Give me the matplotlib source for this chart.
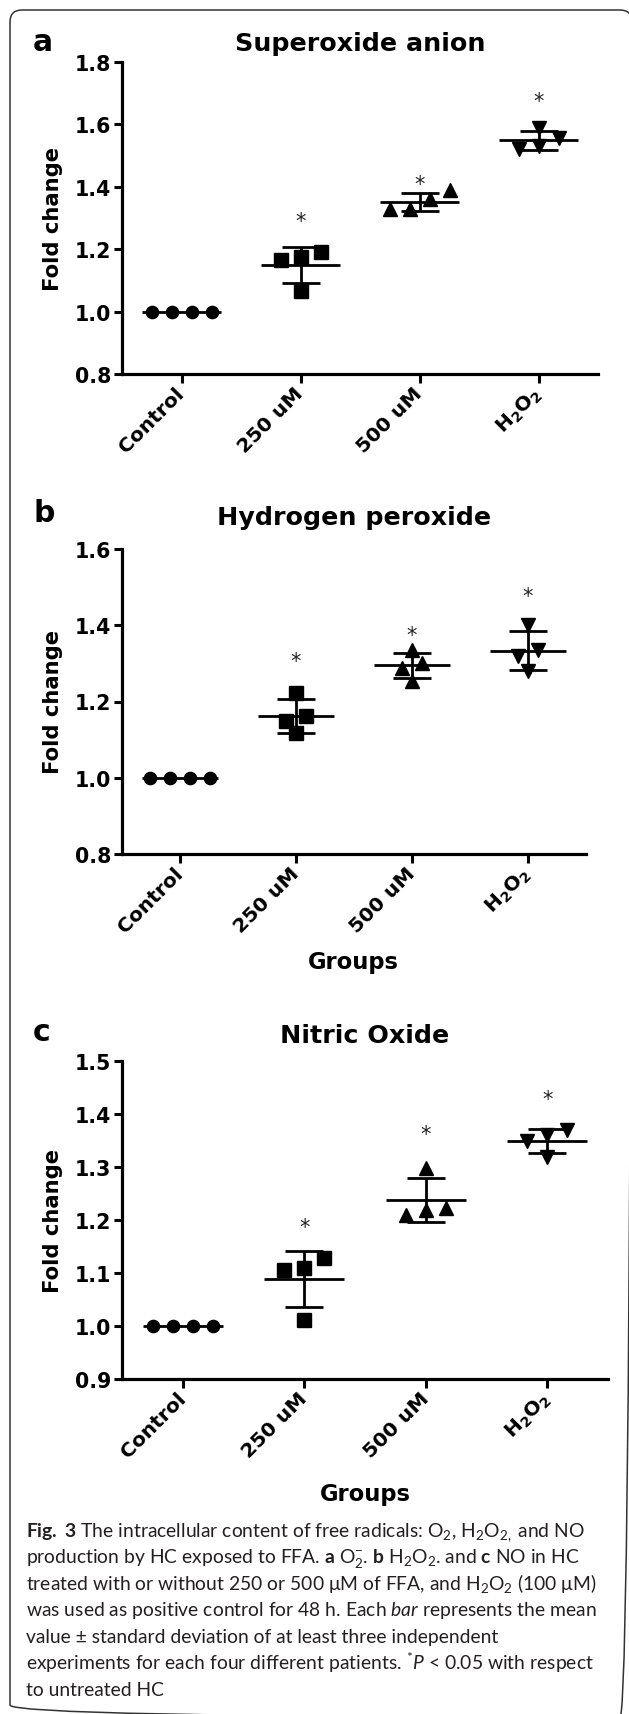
import numpy as np
import matplotlib
matplotlib.use("Agg")
import matplotlib.pyplot as plt
from matplotlib.patches import FancyBboxPatch
from matplotlib import font_manager

available = {f.name for f in font_manager.fontManager.ttflist}
CAP_FONT = 'Open Sans'
for cand in ['Liberation Sans Narrow', 'Lato', 'Roboto', 'Open Sans']:
    if cand in available:
        CAP_FONT = cand
        break

plt.rcParams['font.family'] = ['DejaVu Sans']
plt.rcParams['mathtext.default'] = 'regular'
plt.rcParams['mathtext.fontset'] = 'custom'
plt.rcParams['mathtext.rm'] = CAP_FONT
plt.rcParams['mathtext.it'] = CAP_FONT + ':italic'
plt.rcParams['mathtext.bf'] = CAP_FONT + ':bold'

# ---------------- data ----------------
categories = ["Control", "250 uM", "500 uM", "H$_2$O$_2$"]
markers = ['o', 's', '^', 'v']

# a: Superoxide anion
sup_control = [1.0, 1.0, 1.0, 1.0]
sup_250 = [1.19, 1.175, 1.165, 1.065]
sup_500 = [1.39, 1.36, 1.33, 1.33]
sup_h2o2 = [1.59, 1.555, 1.53, 1.52]
sup_star = [np.nan, 1.311, 1.428, 1.694]

# b: Hydrogen peroxide
hp_control = [1.0, 1.0, 1.0, 1.0]
hp_250 = [1.223, 1.161, 1.148, 1.118]
hp_500 = [1.335, 1.301, 1.288, 1.255]
hp_h2o2 = [1.40, 1.335, 1.32, 1.28]
hp_star = [np.nan, 1.323, 1.392, 1.492]

# c: Nitric Oxide
no_control = [1.0, 1.0, 1.0, 1.0]
no_250 = [1.128, 1.109, 1.105, 1.011]
no_500 = [1.299, 1.223, 1.218, 1.21]
no_h2o2 = [1.37, 1.36, 1.35, 1.318]
no_star = [np.nan, 1.199, 1.375, 1.44]

titles = ["Superoxide anion", "Hydrogen peroxide", "Nitric Oxide"]
letters = ["a", "b", "c"]
ylims = [(0.8, 1.8), (0.8, 1.6), (0.9, 1.5)]
ytick_vals = [[0.8, 1.0, 1.2, 1.4, 1.6, 1.8],
              [0.8, 1.0, 1.2, 1.4, 1.6],
              [0.9, 1.0, 1.1, 1.2, 1.3, 1.4, 1.5]]
ylabel = "Fold change"
xlabel = "Groups"

caption_lines = [
    r"$\mathbf{Fig.}$ $\mathbf{3}$ The intracellular content of free radicals: O$_2$, H$_2$O$_{2,}$ and NO",
    r"production by HC exposed to FFA. $\mathbf{a}$ O$_2^{-}$. $\mathbf{b}$ H$_2$O$_2$. and $\mathbf{c}$ NO in HC",
    "treated with or without 250 or 500 \u03bcM of FFA, and H$_2$O$_2$ (100 \u03bcM)",
    r"was used as positive control for 48 h. Each $\mathit{bar}$ represents the mean",
    "value \u00b1 standard deviation of at least three independent",
    r"experiments for each four different patients. $^{*}\mathit{P}$ < 0.05 with respect",
    "to untreated HC",
]

panel_data = [
    ([sup_control, sup_250, sup_500, sup_h2o2], sup_star),
    ([hp_control, hp_250, hp_500, hp_h2o2], hp_star),
    ([no_control, no_250, no_500, no_h2o2], no_star),
]

# ---------------- layout (pixels) ----------------
W, H = 629, 1715
panels_px = [(122, 598, 63, 375), (122, 586, 550, 855), (122, 608, 1062, 1380)]
title_base = [51, 525, 1043]
letter_base = [51, 522, 1041]
groups_pos = [None, (353, 963), (365, 1495)]

fig = plt.figure(figsize=(W / 100, H / 100), dpi=100)
ov = fig.add_axes([0, 0, 1, 1])
ov.set_xlim(0, W)
ov.set_ylim(H, 0)
ov.axis('off')

frame = FancyBboxPatch((10, 11), 622, 1707, boxstyle="round,pad=0,rounding_size=12",
                       fill=False, lw=1.1, ec='#333333')
ov.add_patch(frame)


def swarm_offsets(vals, px_per_unit, thresh_px, step):
    vals = np.asarray(vals, dtype=float)
    order = np.argsort(vals, kind='stable')
    offs = np.zeros(len(vals))
    clusters, cur = [], [order[0]]
    for i in order[1:]:
        if (vals[i] - vals[cur[-1]]) * px_per_unit < thresh_px:
            cur.append(i)
        else:
            clusters.append(cur)
            cur = [i]
    clusters.append(cur)
    for cl in clusters:
        n = len(cl)
        for k, i in enumerate(cl):
            offs[i] = (k - (n - 1) / 2) * step
    return offs


LW = 2.0
for p in range(3):
    l, r, t, b = panels_px[p]
    ax = fig.add_axes([l / W, 1 - b / H, (r - l) / W, (b - t) / H])
    ax.set_facecolor('none')
    y0, y1 = ylims[p]
    ax.set_xlim(-0.5, 3.5)
    ax.set_ylim(y0, y1)
    for s in ['top', 'right']:
        ax.spines[s].set_visible(False)
    for s in ['left', 'bottom']:
        ax.spines[s].set_linewidth(2.3)
    ax.set_yticks(ytick_vals[p])
    ax.set_yticklabels([f"{v:.1f}" for v in ytick_vals[p]], fontsize=14.8, fontweight='bold')
    ax.tick_params(axis='y', length=6, width=2.2, pad=2)
    ax.set_xticks(range(len(categories)))
    ax.set_xticklabels(categories, rotation=45, ha='right', va='center',
                       rotation_mode='anchor', fontsize=14.5, fontweight='bold')
    ax.tick_params(axis='x', length=6.5, width=2.2, pad=5)

    px_per_unit_y = (b - t) / (y1 - y0)
    step = 20 / ((r - l) / 4.0)
    groups, stars = panel_data[p]
    for i, vals in enumerate(groups):
        offs = swarm_offsets(vals, px_per_unit_y, 10.5, step)
        ms = 8.8 if markers[i] == 'o' else (9.8 if markers[i] == 's' else 10.6)
        ax.plot(i + offs, vals, ls='none', marker=markers[i], ms=ms, color='black',
                mec='black', zorder=3, clip_on=False)
        mean = np.mean(vals)
        sd = np.std(vals, ddof=1)
        ax.hlines(mean, i - 0.33, i + 0.33, color='black', lw=LW, zorder=4)
        if sd > 0:
            ax.errorbar(i, mean, yerr=sd, fmt='none', ecolor='black', elinewidth=LW,
                        capsize=14, capthick=LW, zorder=4)
        if not np.isnan(stars[i]):
            ax.annotate('*', (i, stars[i]), xytext=(0, -0.59 * 15), textcoords='offset points',
                        ha='center', va='baseline', fontsize=15, color='#222222')

    ov.text((l + r) / 2, title_base[p], titles[p], ha='center', va='baseline',
            fontsize=18.3, fontweight='bold')
    ov.text(33, letter_base[p], letters[p], ha='left', va='baseline',
            fontsize=21.5, fontweight='bold')
    ov.text(53, (t + b) / 2, ylabel, rotation=90, ha='center', va='center',
            fontsize=15.2, fontweight='bold')
    if groups_pos[p] is not None:
        ov.text(groups_pos[p][0], groups_pos[p][1], xlabel, ha='center', va='center',
                fontsize=16.3, fontweight='bold')

# ---------------- caption ----------------
renderer = fig.canvas.get_renderer()
cap_color = '#231f20'
probe = ov.text(26, 1600, caption_lines[3], fontsize=12, family=CAP_FONT, va='baseline')
wpx = probe.get_window_extent(renderer).width
probe.remove()
cap_fs = 12 * 571 / wpx
for k, line in enumerate(caption_lines):
    ov.text(26, 1537 + 26.5 * k, line, fontsize=cap_fs, family=CAP_FONT,
            va='baseline', ha='left', color=cap_color)

fig.savefig("out.png", dpi=100)
